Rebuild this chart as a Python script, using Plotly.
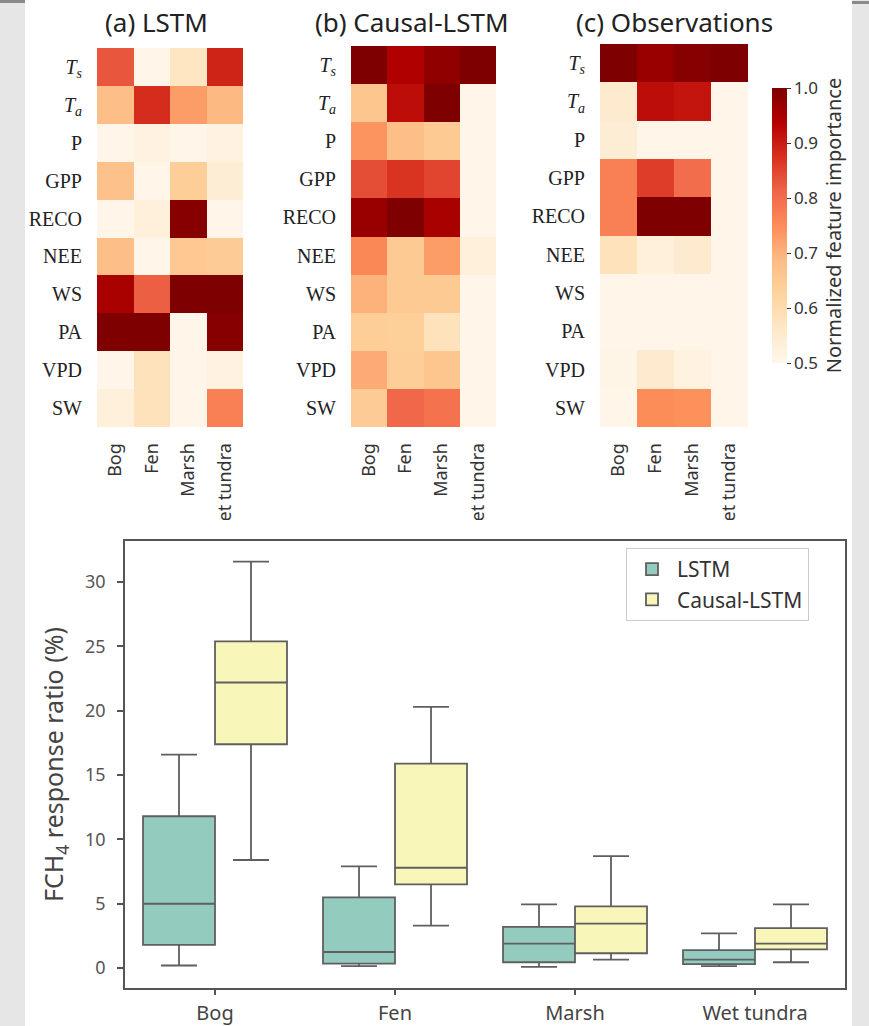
import plotly.graph_objects as go

W, H = 869, 1026

# ---------------- data ----------------
wetlands = ["Bog", "Fen", "Marsh", "Wet tundra"]
features = ["<i>T</i><sub><i>s</i></sub>", "<i>T</i><sub><i>a</i></sub>", "P", "GPP", "RECO",
            "NEE", "WS", "PA", "VPD", "SW"]

imp_lstm = [
    [0.83, 0.505, 0.57, 0.89],
    [0.68, 0.88, 0.73, 0.69],
    [0.505, 0.52, 0.505, 0.52],
    [0.67, 0.505, 0.64, 0.54],
    [0.505, 0.53, 0.99, 0.505],
    [0.68, 0.505, 0.655, 0.645],
    [0.95, 0.82, 1.0, 1.0],
    [1.0, 1.0, 0.505, 0.99],
    [0.505, 0.58, 0.505, 0.52],
    [0.53, 0.58, 0.505, 0.77],
]
imp_causal = [
    [1.0, 0.94, 0.98, 1.0],
    [0.66, 0.92, 1.0, 0.505],
    [0.74, 0.68, 0.65, 0.505],
    [0.84, 0.87, 0.85, 0.505],
    [0.97, 1.0, 0.95, 0.505],
    [0.76, 0.65, 0.73, 0.53],
    [0.70, 0.65, 0.65, 0.505],
    [0.64, 0.635, 0.58, 0.505],
    [0.71, 0.64, 0.66, 0.505],
    [0.645, 0.81, 0.79, 0.505],
]
imp_obs = [
    [1.0, 0.97, 0.99, 1.0],
    [0.55, 0.92, 0.91, 0.505],
    [0.54, 0.505, 0.505, 0.505],
    [0.77, 0.86, 0.80, 0.505],
    [0.77, 1.0, 1.0, 0.505],
    [0.58, 0.53, 0.55, 0.505],
    [0.505, 0.505, 0.505, 0.505],
    [0.505, 0.505, 0.505, 0.505],
    [0.51, 0.55, 0.52, 0.505],
    [0.505, 0.75, 0.745, 0.505],
]
panel_titles = ["(a) LSTM", "(b) Causal-LSTM", "(c) Observations"]

# box statistics (FCH4 response ratio, %)
lstm_lower = [0.2, 0.15, 0.1, 0.15]
lstm_q1 = [1.8, 0.35, 0.45, 0.3]
lstm_median = [5.0, 1.25, 1.9, 0.65]
lstm_q3 = [11.8, 5.5, 3.2, 1.4]
lstm_upper = [16.6, 7.9, 4.95, 2.7]

causal_lower = [8.4, 3.3, 0.65, 0.45]
causal_q1 = [17.4, 6.5, 1.15, 1.45]
causal_median = [22.2, 7.8, 3.45, 1.9]
causal_q3 = [25.4, 15.9, 4.8, 3.1]
causal_upper = [31.6, 20.3, 8.7, 4.95]

# ---------------- helpers ----------------
def px_x(x):
    return x / W

def px_y(y):
    return 1 - y / H

SERIF = "Liberation Serif"
SANS = "Noto Sans"

fig = go.Figure()

heat_boxes = [  # (x0, x1, y0, y1) in px
    (97, 243, 48, 427),
    (351, 496, 46, 427),
    (600, 748, 44, 427),
]
datasets = [imp_lstm, imp_causal, imp_obs]

for i, (z, box) in enumerate(zip(datasets, heat_boxes)):
    k = "" if i == 0 else str(i + 1)
    show = i == 2
    hm = go.Heatmap(
        z=z, x=wetlands, y=features,
        zmin=0.5, zmax=1.0, colorscale="OrRd",
        showscale=show, xaxis="x" + k, yaxis="y" + k,
        hoverinfo="skip",
    )
    if show:
        hm.colorbar = dict(
            x=px_x(772), xanchor="left", xpad=0,
            y=px_y((88 + 363) / 2), yanchor="middle", ypad=0,
            len=275 / H, lenmode="fraction", thickness=15,
            outlinewidth=0, ticks="outside", ticklen=4, tickcolor="#333",
            tickvals=[0.5, 0.6, 0.7, 0.8, 0.9, 1.0], tickformat=".1f",
            tickfont=dict(family=SANS, size=17, color="#333"),
            title=dict(text="Normalized feature importance", side="right",
                       font=dict(family=SANS, size=20, color="#333")),
        )
    fig.add_trace(hm)
    x0, x1, y0, y1 = box
    fig.layout["xaxis" + k] = dict(
        domain=[px_x(x0), px_x(x1)], anchor="y" + k,
        tickangle=-90, ticks="outside", ticklen=8, tickcolor="rgba(0,0,0,0)",
        tickfont=dict(family=SANS, size=18, color="#333"),
        showgrid=False, zeroline=False, showline=False, fixedrange=True,
    )
    fig.layout["yaxis" + k] = dict(
        domain=[px_y(y1), px_y(y0)], anchor="x" + k,
        autorange="reversed", ticks="outside", ticklen=10, tickcolor="rgba(0,0,0,0)",
        tickfont=dict(family=SERIF, size=20, color="#222"),
        showgrid=False, zeroline=False, showline=False, fixedrange=True,
    )

# ---------------- box plot ----------------
edge = "#5f5f5f"
fig.add_trace(go.Box(
    name="LSTM", x=wetlands, q1=lstm_q1, median=lstm_median, q3=lstm_q3,
    lowerfence=lstm_lower, upperfence=lstm_upper,
    fillcolor="#93cbbf", line=dict(color=edge, width=1.8), whiskerwidth=0.5,
    xaxis="x4", yaxis="y4", hoverinfo="skip",
))
fig.add_trace(go.Box(
    name="Causal-LSTM", x=wetlands, q1=causal_q1, median=causal_median, q3=causal_q3,
    lowerfence=causal_lower, upperfence=causal_upper,
    fillcolor="#f9f6b9", line=dict(color=edge, width=1.8), whiskerwidth=0.5,
    xaxis="x4", yaxis="y4", hoverinfo="skip",
))

fig.update_layout(
    xaxis4=dict(
        domain=[px_x(125), px_x(845)], anchor="y4",
        categoryorder="array", categoryarray=wetlands, range=[-0.5, 3.5],
        showline=True, mirror=True, linecolor="#555", linewidth=1.5,
        ticks="outside", ticklen=5, tickcolor="#555", tickwidth=1.5,
        ticklabelstandoff=1,
        tickfont=dict(family=SANS, size=20, color="#444"),
        showgrid=False, zeroline=False, fixedrange=True,
    ),
    yaxis4=dict(
        domain=[px_y(988), px_y(541)], anchor="x4",
        range=[-1.55, 33.2], tickvals=[0, 5, 10, 15, 20, 25, 30],
        showline=True, mirror=True, linecolor="#555", linewidth=1.5,
        ticks="outside", ticklen=6, tickcolor="#555", tickwidth=1.5,
        ticklabelstandoff=8,
        tickfont=dict(family=SANS, size=18, color="#555"),
        title=dict(text="FCH<sub>4</sub> response ratio (%)", standoff=14,
                   font=dict(family=SANS, size=25, color="#444")),
        showgrid=False, zeroline=False, fixedrange=True,
    ),
    boxmode="group", boxgap=0.2, boxgroupgap=0.0,
    legend=dict(
        x=px_x(626), y=px_y(548), xanchor="left", yanchor="top",
        bgcolor="white", bordercolor="#cccccc", borderwidth=1,
        font=dict(family=SANS, size=21, color="#333"),
        itemwidth=40, tracegroupgap=8,
    ),
    showlegend=True,
)

# ---------------- titles ----------------
title_x = [156, 412, 674]
for t, cx in zip(panel_titles, title_x):
    fig.add_annotation(
        text=t, x=px_x(cx), y=px_y(22), xref="paper", yref="paper",
        xanchor="center", yanchor="middle", showarrow=False,
        font=dict(family=SANS, size=26, color="#222"),
    )

# ---------------- page decoration ----------------
fig.add_shape(type="rect", xref="paper", yref="paper",
              x0=px_x(25), x1=px_x(852), y0=0, y1=1,
              fillcolor="white", line=dict(width=0), layer="below")
# cut between the upper image and the lower image
fig.add_shape(type="rect", xref="paper", yref="paper",
              x0=px_x(25), x1=px_x(852), y0=px_y(539), y1=px_y(520),
              fillcolor="white", line=dict(width=0), layer="above")
fig.add_shape(type="rect", xref="paper", yref="paper",
              x0=0, x1=px_x(25), y0=px_y(3), y1=1,
              fillcolor="#8a8a8a", line=dict(width=0), layer="below")
fig.add_shape(type="rect", xref="paper", yref="paper",
              x0=px_x(852), x1=1, y0=px_y(4), y1=px_y(1),
              fillcolor="#8a8a8a", line=dict(width=0), layer="below")

fig.update_layout(
    width=W, height=H,
    margin=dict(l=0, r=0, t=0, b=0),
    paper_bgcolor="#e6e6e6", plot_bgcolor="rgba(0,0,0,0)",
)

fig.write_html("out.html", config={"displayModeBar": False},
               post_script="document.body.style.margin='0px';document.body.style.overflow='hidden';")
